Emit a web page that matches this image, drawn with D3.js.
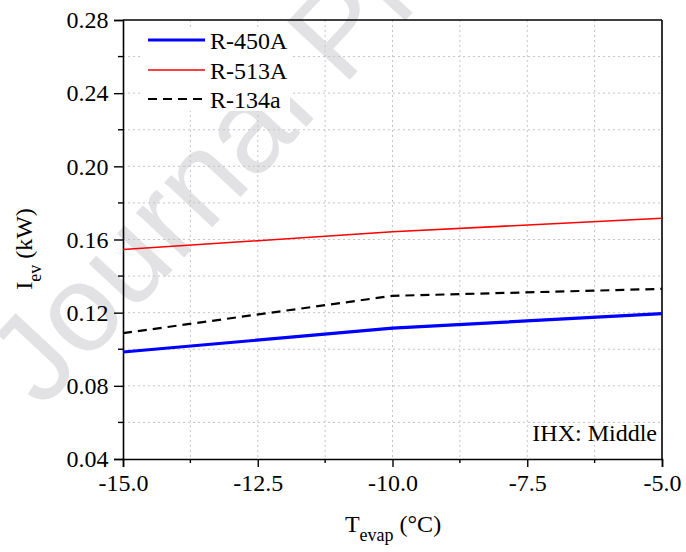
<!DOCTYPE html>
<html>
<head>
<meta charset="utf-8">
<script src="https://cdn.jsdelivr.net/npm/d3@7"></script>
<style>
  html, body { margin: 0; padding: 0; background: #fff; }
  svg { display: block; }
</style>
</head>
<body>
<svg id="chart" width="686" height="552"></svg>
<script>
// Evaporator temperature (°C)
const tEvap = [-15, -10, -5];
// Evaporator irreversibility (kW) per refrigerant
const r450A = [0.0985, 0.1115, 0.1195];
const r513A = [0.1545, 0.1642, 0.1716];
const r134a = [0.1088, 0.1292, 0.1330];

const seriesNames = ["R-450A", "R-513A", "R-134a"];
const xTicks = [-15, -12.5, -10, -7.5, -5];
const yTicks = [0.04, 0.08, 0.12, 0.16, 0.20, 0.24, 0.28];

const SERIF = "'Liberation Serif', 'Times New Roman', serif";
const FS = "24px";

const svg = d3.select("#chart");
const pl = 123, pr = 662, pt = 20, pb = 459;

const x = d3.scaleLinear().domain([-15, -5]).range([pl, pr]);
const y = d3.scaleLinear().domain([0.04, 0.28]).range([pb, pt]);

// watermark
svg.append("text")
  .attr("class", "wm")
  .attr("transform", "translate(42,410) rotate(-47)")
  .style("font-family", "'Liberation Sans', Arial, sans-serif")
  .style("font-size", "124px")
  .style("fill", "#e2e2e4")
  .text("Journal Pre-proof");

// dotted grid at major and minor positions
const xGrid = d3.range(1, 8).map(i => -15 + i * 1.25);
const yGrid = d3.range(1, 12).map(i => 0.04 + i * 0.02);
const grid = svg.append("g").attr("stroke", "#c4c4c4").attr("stroke-width", 1).attr("stroke-dasharray", "2,3");
grid.selectAll(".gx").data(xGrid).join("line")
  .attr("x1", d => x(d)).attr("x2", d => x(d)).attr("y1", pt).attr("y2", pb);
grid.selectAll(".gy").data(yGrid).join("line")
  .attr("y1", d => y(d)).attr("y2", d => y(d)).attr("x1", pl).attr("x2", pr);

// legend backdrop
svg.append("rect").attr("x", 140).attr("y", 29).attr("width", 150).attr("height", 82).attr("fill", "#fff");

// frame
svg.append("line").attr("x1", pl).attr("x2", pr).attr("y1", pt).attr("y2", pt)
  .attr("stroke", "#000").attr("stroke-width", 1.6);
svg.append("line").attr("x1", pr).attr("x2", pr).attr("y1", pt).attr("y2", pb)
  .attr("stroke", "#000").attr("stroke-width", 1.6);

const isMajor = (arr, d) => arr.some(t => Math.abs(t - d) < 1e-9);
const xMinor = d3.range(0, 9).map(i => -15 + i * 1.25).filter(d => !isMajor(xTicks, d));
const yMinor = d3.range(0, 13).map(i => 0.04 + i * 0.02).filter(d => !isMajor(yTicks, d));

// axes
const fmtX = d => d3.format(".1f")(d).replace("\u2212", "-");
const gx = svg.append("g").attr("transform", `translate(0,${pb})`)
  .call(d3.axisBottom(x).tickValues(xTicks).tickSize(8).tickPadding(7).tickFormat(fmtX));
const gy = svg.append("g").attr("transform", `translate(${pl},0)`)
  .call(d3.axisLeft(y).tickValues(yTicks).tickSize(9).tickPadding(5.5).tickFormat(d3.format(".2f")));

svg.append("g").selectAll("line").data(xMinor).join("line")
  .attr("x1", d => x(d)).attr("x2", d => x(d)).attr("y1", pb).attr("y2", pb + 4)
  .attr("stroke", "#000").attr("stroke-width", 1.4);
svg.append("g").selectAll("line").data(yMinor).join("line")
  .attr("y1", d => y(d)).attr("y2", d => y(d)).attr("x1", pl).attr("x2", pl - 5)
  .attr("stroke", "#000").attr("stroke-width", 1.4);

[gx, gy].forEach(g => {
  g.attr("font-family", null).attr("font-size", null);
  g.selectAll(".domain").attr("stroke", "#000").attr("stroke-width", 1.6);
  g.selectAll(".tick line").attr("stroke", "#000").attr("stroke-width", 1.4);
  g.selectAll(".tick text").attr("fill", "#000");
});

// series
const seriesData = [r450A, r513A, r134a];
const styles = [
  { color: "#0000ff", width: 3.2, dash: null },
  { color: "#ff0000", width: 1.6, dash: null },
  { color: "#000000", width: 2.2, dash: "9,6" }
];
const line = d3.line().x((d, i) => x(tEvap[i])).y(d => y(d));
seriesData.forEach((s, k) => {
  svg.append("path").datum(s)
    .attr("d", line)
    .attr("fill", "none")
    .attr("stroke", styles[k].color)
    .attr("stroke-width", styles[k].width)
    .attr("stroke-dasharray", styles[k].dash);
});

// legend
const legendY = [40, 70, 99];
seriesNames.forEach((name, k) => {
  svg.append("line")
    .attr("x1", 148).attr("x2", 205).attr("y1", legendY[k]).attr("y2", legendY[k])
    .attr("stroke", styles[k].color).attr("stroke-width", styles[k].width)
    .attr("stroke-dasharray", styles[k].dash);
  svg.append("text").attr("x", 210).attr("y", legendY[k] + 9).text(name);
});

// annotation
svg.append("text").attr("x", 657).attr("y", 441).attr("text-anchor", "end").text("IHX: Middle");

// axis titles
const xt = svg.append("text").attr("x", 393).attr("y", 532).attr("text-anchor", "middle");
xt.append("tspan").text("T");
xt.append("tspan").attr("dy", 9).style("font-size", "18px").text("evap");
xt.append("tspan").attr("dy", -9).text(" (°C)");

const yt = svg.append("text").attr("transform", "translate(32,249) rotate(-90)").attr("text-anchor", "middle");
yt.append("tspan").text("I");
yt.append("tspan").attr("dy", 9).style("font-size", "18px").text("ev");
yt.append("tspan").attr("dy", -9).text(" (kW)");

// serif face for every label except the watermark
svg.selectAll("text:not(.wm)")
  .style("font-family", SERIF)
  .style("font-size", function () { return this.style.fontSize || FS; })
  .style("fill", "#000");
</script>
</body>
</html>
